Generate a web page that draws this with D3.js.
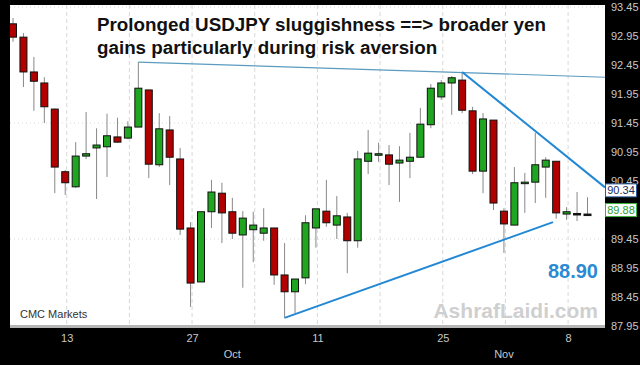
<!DOCTYPE html>
<html>
<head>
<meta charset="utf-8">
<script src="https://cdn.jsdelivr.net/npm/d3@7"></script>
<style>
  body { margin: 0; background: #000; }
  svg { display: block; font-family: "Liberation Sans", Arial, sans-serif; }
</style>
</head>
<body>
<div id="container"></div>
<script>
// daily USDJPY candles (6 per week)
var opens  = [93.16,92.93,92.33,92.14,91.69,90.61,90.35,90.88,91.02,91.04,91.21,91.19,91.38,92.02,90.73,91.33,90.83,89.64,88.71,89.92,90.24,89.92,89.52,89.61,89.55,89.64,88.83,88.54,88.78,89.64,89.93,89.69,89.83,89.42,90.79,90.90,90.90,90.76,90.79,90.86,91.42,91.90,92.14,92.19,91.66,90.62,91.50,89.93,89.69,90.42,90.43,90.69,90.79,89.88,89.89,89.88];
var highs  = [93.26,93.00,92.59,92.24,91.70,90.64,91.12,91.64,91.36,91.61,91.54,91.48,92.50,92.02,91.62,91.57,91.02,89.74,89.92,90.47,90.42,90.16,89.93,89.92,89.98,89.64,89.38,88.76,89.86,89.97,90.47,90.19,89.90,90.97,91.33,91.11,91.07,91.05,91.28,91.71,92.12,92.19,92.26,92.33,91.73,91.62,91.50,89.98,90.69,90.59,91.28,90.86,90.79,90.00,90.26,90.17];
var lows   = [92.85,92.07,91.66,91.45,90.24,90.21,90.33,90.83,90.14,90.52,91.11,91.17,91.38,90.50,90.69,90.38,89.52,88.28,88.71,89.64,89.38,89.45,88.61,89.05,89.42,88.66,88.09,88.17,88.67,89.30,89.66,89.45,88.86,89.30,90.57,90.78,90.38,90.09,90.50,90.86,91.36,91.85,91.59,91.62,90.57,90.24,89.95,89.21,89.69,89.90,90.07,90.16,89.80,89.78,89.76,89.85];
var closes = [92.93,92.33,92.17,91.73,90.69,90.42,90.88,90.92,91.07,91.23,91.12,91.38,92.05,90.74,91.35,90.86,89.62,88.69,89.92,90.26,89.90,89.55,89.81,89.69,89.64,88.83,88.54,88.76,89.73,89.97,89.73,89.85,89.42,90.83,90.93,90.92,90.74,90.81,90.86,91.43,92.05,92.14,92.23,91.67,90.62,91.52,90.07,89.71,90.42,90.43,90.73,90.81,89.90,89.92,89.89,89.88];

// axis ticks (89.95 sits under the last-close box, so it is left out)
var yTicks = [93.45,92.95,92.45,91.95,91.45,90.95,90.45,89.45,88.95,88.45,87.95];
var yGrid = [93.45,91.45,89.45];
var weekStarts = [5,11,17,23,29,35,41,47,53];
var dayTicks = [5,17,29,41,53];
var dayLabels = ["13","27","11","25","8"];
var monthTicks = [21,47];
var monthLabels = ["Oct","Nov"];

// trend lines: [candle index, price]; null index = right edge
var topLine = [[12,92.50],[null,92.24]];
var fallLine = [[43,92.33],[null,90.34]];
var riseLine = [[26,88.09],[51.7,89.74]];
var lastTrend = 90.34;
var lastClose = 89.88;
var target = "88.90";

var width = 640, height = 365;
var plot = {left: 10, right: 605, top: 5, bottom: 325};

var svg = d3.select("#container").append("svg")
    .attr("width", width)
    .attr("height", height);

svg.append("rect").attr("width", width).attr("height", height).attr("fill", "#000");

svg.append("rect")
    .attr("x", plot.left).attr("y", plot.top)
    .attr("width", plot.right - plot.left).attr("height", plot.bottom - plot.top)
    .attr("fill", "#fff");
svg.append("rect")
    .attr("x", plot.left).attr("y", plot.bottom)
    .attr("width", plot.right - plot.left).attr("height", 3)
    .attr("fill", "#b5b5b5");

svg.append("clipPath").attr("id", "clip")
  .append("rect")
    .attr("x", plot.left).attr("y", plot.top)
    .attr("width", plot.right - plot.left).attr("height", plot.bottom - plot.top);

var x = d3.scaleLinear().domain([0, 55]).range([13, 587.5]);
var y = d3.scaleLinear().domain([87.95, 93.45]).range([326, 7]);
var edge = x.invert(plot.right);

var g = svg.append("g").attr("clip-path", "url(#clip)");

// grid
g.selectAll(".vgrid").data(weekStarts).enter().append("line")
    .attr("x1", function(d) { return x(d) + 1.5; })
    .attr("x2", function(d) { return x(d) + 1.5; })
    .attr("y1", plot.top).attr("y2", plot.bottom)
    .attr("stroke", "#d8d8d8").attr("stroke-dasharray", "4,3");
g.selectAll(".hgrid").data(yGrid).enter().append("line")
    .attr("x1", plot.left).attr("x2", plot.right)
    .attr("y1", function(d) { return y(d); })
    .attr("y2", function(d) { return y(d); })
    .attr("stroke", "#d8d8d8").attr("stroke-dasharray", "1,3");

// watermark + credits
svg.append("text")
    .attr("x", 598).attr("y", 318)
    .attr("text-anchor", "end")
    .attr("font-size", 21).attr("font-weight", "bold")
    .attr("fill", "#cfcfcf")
    .text("AshrafLaidi.com");
svg.append("text")
    .attr("x", 20).attr("y", 318)
    .attr("font-size", 11).attr("fill", "#333")
    .text("CMC Markets");

// candles
var candles = d3.range(opens.length).map(function(i) {
  return {i: i, o: opens[i], h: highs[i], l: lows[i], c: closes[i]};
});

var cg = g.selectAll(".candle").data(candles).enter().append("g");
cg.append("line")
    .attr("x1", function(d) { return x(d.i); })
    .attr("x2", function(d) { return x(d.i); })
    .attr("y1", function(d) { return y(d.h); })
    .attr("y2", function(d) { return y(d.l); })
    .attr("stroke", "#888").attr("stroke-width", 1);
cg.append("rect")
    .attr("x", function(d) { return x(d.i) - 3.5; })
    .attr("y", function(d) { return y(Math.max(d.o, d.c)); })
    .attr("width", 7)
    .attr("height", function(d) { return Math.max(1.5, Math.abs(y(d.o) - y(d.c))); })
    .attr("fill", function(d) { return d.c > d.o ? "#1fa51f" : d.c < d.o ? "#b00000" : "#111"; })
    .attr("stroke", "#111").attr("stroke-width", 1);

// trend lines
var tl = d3.line()
    .x(function(d) { return x(d[0] === null ? edge : d[0]); })
    .y(function(d) { return y(d[1]); });
g.append("path").datum(topLine).attr("d", tl)
    .attr("fill", "none").attr("stroke", "#5a9bbf").attr("stroke-width", 1.1);
g.append("path").datum(fallLine).attr("d", tl)
    .attr("fill", "none").attr("stroke", "#2288d4").attr("stroke-width", 2);
g.append("path").datum(riseLine).attr("d", tl)
    .attr("fill", "none").attr("stroke", "#2288d4").attr("stroke-width", 2);

// title
var title = svg.append("text")
    .attr("font-size", 18.8).attr("font-weight", "bold").attr("fill", "#111");
title.append("tspan").attr("x", 97).attr("y", 31).text("Prolonged USDJPY sluggishness ==> broader yen");
title.append("tspan").attr("x", 97).attr("y", 54).text("gains particularly during risk aversion");

svg.append("text")
    .attr("x", 598).attr("y", 278)
    .attr("text-anchor", "end")
    .attr("font-size", 20).attr("font-weight", "bold")
    .attr("fill", "#2a8ad4")
    .text(target);

// right axis
var yAxis = svg.append("g")
    .attr("transform", "translate(" + (plot.right + 1) + ",0)")
    .call(d3.axisRight(y).tickValues(yTicks).tickSize(0).tickPadding(5).tickFormat(d3.format(".2f")));
yAxis.select(".domain").remove();
yAxis.selectAll("text")
    .attr("font-family", "Liberation Sans, Arial, sans-serif")
    .attr("font-size", 11).attr("fill", "#c8c8c8");

// bottom axis
var xAxis = svg.append("g")
    .attr("transform", "translate(1.5," + (plot.bottom + 3) + ")")
    .call(d3.axisBottom(x).tickValues(dayTicks).tickSize(0).tickPadding(6)
      .tickFormat(function(d, i) { return dayLabels[i]; }));
xAxis.select(".domain").remove();
xAxis.selectAll("text")
    .attr("font-family", "Liberation Sans, Arial, sans-serif")
    .attr("font-size", 11).attr("fill", "#c8c8c8");

svg.selectAll(".month").data(monthTicks).enter().append("text")
    .attr("x", function(d) { return x(d); })
    .attr("y", 358)
    .attr("text-anchor", "middle")
    .attr("font-size", 11).attr("fill", "#c8c8c8")
    .text(function(d, i) { return monthLabels[i]; });

// last-value boxes
var boxes = [
  {v: lastTrend, dy: 3, stroke: "#2a5a9a", text: "#1c2c5c"},
  {v: lastClose, dy: -4, stroke: "#3cb43c", text: "#2ea02e"}
];
var bx = svg.selectAll(".box").data(boxes).enter().append("g")
    .attr("transform", function(d) { return "translate(" + plot.right + "," + (y(d.v) + d.dy) + ")"; });
bx.append("rect")
    .attr("x", 0.5).attr("y", -6.5).attr("width", 31).attr("height", 13)
    .attr("fill", "#fff")
    .attr("stroke", function(d) { return d.stroke; });
bx.append("text")
    .attr("x", 16).attr("y", 4)
    .attr("text-anchor", "middle")
    .attr("font-size", 11)
    .attr("fill", function(d) { return d.text; })
    .text(function(d) { return d3.format(".2f")(d.v); });
</script>
</body>
</html>
